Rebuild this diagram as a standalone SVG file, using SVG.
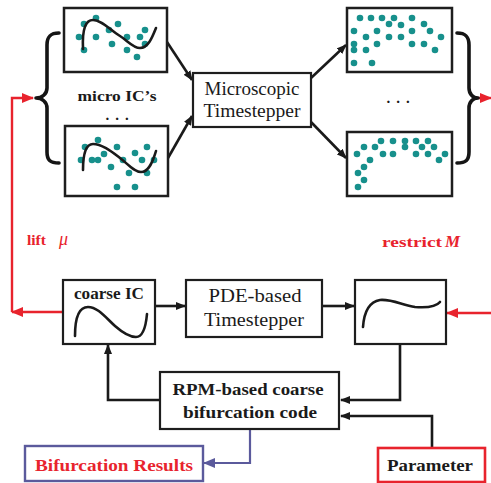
<svg xmlns="http://www.w3.org/2000/svg" width="491" height="483" viewBox="0 0 491 483">
<style>
.panel{fill:#fff;stroke:#1e1e1e;stroke-width:2.5}
.box{fill:#fff;stroke:#1e1e1e;stroke-width:2.2}
.d{fill:#17908c}
.curve{fill:none;stroke:#1a1a1a;stroke-width:2.6;stroke-linecap:round}
.brace{fill:none;stroke:#151515;stroke-width:3.6;stroke-linecap:round;stroke-linejoin:round}
.k{fill:none;stroke:#1a1a1a;stroke-width:2.6}
.r{fill:none;stroke:#e8232d;stroke-width:2.4}
.b{fill:none;stroke:#5b5a9c;stroke-width:2.2}
.t{font-family:"Liberation Serif",serif;fill:#1a1a1a}
.bold{font-weight:bold}
.red{fill:#e8232d}
.ell{letter-spacing:6px}
</style>
<defs>
<marker id="ak" markerWidth="10" markerHeight="8" refX="9" refY="4" orient="auto" markerUnits="userSpaceOnUse"><path d="M0,0 L10,4 L0,8 Z" fill="#1a1a1a"/></marker>
<marker id="ar" markerWidth="12" markerHeight="10" refX="11" refY="5" orient="auto" markerUnits="userSpaceOnUse"><path d="M0,0 L12,5 L0,10 Z" fill="#e8232d"/></marker>
<marker id="ab" markerWidth="12" markerHeight="10" refX="11" refY="5" orient="auto" markerUnits="userSpaceOnUse"><path d="M0,0 L12,5 L0,10 Z" fill="#5b5a9c"/></marker>
</defs>

<g id="connectors">
<line class="k" x1="167" y1="42" x2="192" y2="80" marker-end="url(#ak)"/>
<line class="k" x1="168" y1="158" x2="192" y2="116" marker-end="url(#ak)"/>
<line class="k" x1="311" y1="78" x2="346" y2="45" marker-end="url(#ak)"/>
<line class="k" x1="311" y1="122" x2="346" y2="158" marker-end="url(#ak)"/>
<line class="k" x1="155" y1="306" x2="185" y2="306" marker-end="url(#ak)"/>
<line class="k" x1="322" y1="306" x2="354" y2="306" marker-end="url(#ak)"/>
<polyline class="k" points="400,344 400,400 341,400" marker-end="url(#ak)"/>
<polyline class="k" points="432,448 432,416 341,416" marker-end="url(#ak)"/>
<polyline class="k" points="160,400 108,400 108,345" marker-end="url(#ak)"/>
<polyline class="b" points="250,429 250,463 204,463" marker-end="url(#ab)"/>
<polyline class="r" points="63,312 12,312" marker-end="url(#ar)"/>
<polyline class="r" points="12,312 12,98 33,98" marker-end="url(#ar)"/>
<line class="r" x1="477" y1="98" x2="491" y2="98" marker-end="url(#ar)"/>
<line class="r" x1="491" y1="313" x2="447" y2="313" marker-end="url(#ar)"/>
</g>

<g id="left-brace"><path class="brace" d="M59,33 C50,33 47,37 47,45 L47,88 C47,94 42,98 36,98 C42,98 47,102 47,108 L47,152 C47,160 50,163 59,163"/></g>
<g id="right-brace"><path class="brace" d="M457,33 C466,33 469,37 469,45 L469,88 C469,94 473,98 478,98 C473,98 469,102 469,108 L469,152 C469,160 466,163 457,163"/></g>

<g id="micro-ic-top">
<rect class="panel" x="64" y="8" width="103" height="64"/>
<g class="d"><circle cx="84" cy="24" r="3.3"/><circle cx="96" cy="18" r="3.3"/><circle cx="118" cy="24" r="3.3"/><circle cx="79" cy="37" r="3.3"/><circle cx="96" cy="37" r="3.3"/><circle cx="109" cy="30" r="3.3"/><circle cx="127" cy="37" r="3.3"/><circle cx="140" cy="37" r="3.3"/><circle cx="145" cy="30" r="3.3"/><circle cx="112" cy="44" r="3.3"/><circle cx="145" cy="44" r="3.3"/><circle cx="84" cy="50" r="3.3"/><circle cx="127" cy="50" r="3.3"/><circle cx="137" cy="57" r="3.3"/></g>
<path class="curve" d="M83,49 C82,28 86,20 93,20 C102,20 110,30 120,36 C128,41 133,48 140,48 C148,48 152,38 156,28"/>
</g>

<g id="micro-ic-label">
<text class="t bold" x="117" y="101" font-size="15.5" text-anchor="middle" textLength="79" lengthAdjust="spacingAndGlyphs">micro IC’s</text>
<text class="t bold ell" x="120" y="120" font-size="15" text-anchor="middle">...</text>
</g>

<g id="micro-ic-bottom">
<rect class="panel" x="65" y="126" width="103" height="70"/>
<g class="d"><circle cx="98" cy="140" r="3.3"/><circle cx="85" cy="147" r="3.3"/><circle cx="117" cy="147" r="3.3"/><circle cx="147" cy="147" r="3.3"/><circle cx="81" cy="160" r="3.3"/><circle cx="92" cy="160" r="3.3"/><circle cx="98" cy="160" r="3.3"/><circle cx="104" cy="154" r="3.3"/><circle cx="135" cy="153" r="3.3"/><circle cx="123" cy="160" r="3.3"/><circle cx="142" cy="160" r="3.3"/><circle cx="154" cy="160" r="3.3"/><circle cx="111" cy="167" r="3.3"/><circle cx="129" cy="173" r="3.3"/><circle cx="147" cy="173" r="3.3"/><circle cx="117" cy="187" r="3.3"/><circle cx="135" cy="187" r="3.3"/></g>
<path class="curve" d="M83,170 C83,152 86,144 93,144 C102,144 112,152 120,158 C128,164 134,172 141,172 C149,172 153,161 156,151"/>
</g>

<g id="microscopic-timestepper">
<rect class="box" x="193" y="73" width="118" height="54"/>
<text class="t" x="252" y="95" font-size="18" text-anchor="middle" textLength="95" lengthAdjust="spacingAndGlyphs">Microscopic</text>
<text class="t" x="252" y="117" font-size="18" text-anchor="middle" textLength="97" lengthAdjust="spacingAndGlyphs">Timestepper</text>
</g>

<g id="micro-out-top">
<rect class="panel" x="347" y="8" width="105" height="64"/>
<g class="d"><circle cx="360" cy="18" r="3.3"/><circle cx="371" cy="18" r="3.3"/><circle cx="382" cy="18" r="3.3"/><circle cx="394" cy="18" r="3.3"/><circle cx="412" cy="18" r="3.3"/><circle cx="389" cy="24" r="3.3"/><circle cx="401" cy="25" r="3.3"/><circle cx="424" cy="24" r="3.3"/><circle cx="354" cy="31" r="3.3"/><circle cx="377" cy="31" r="3.3"/><circle cx="412" cy="31" r="3.3"/><circle cx="430" cy="31" r="3.3"/><circle cx="366" cy="37" r="3.3"/><circle cx="389" cy="37" r="3.3"/><circle cx="401" cy="37" r="3.3"/><circle cx="441" cy="37" r="3.3"/><circle cx="354" cy="44" r="3.3"/><circle cx="377" cy="44" r="3.3"/><circle cx="412" cy="44" r="3.3"/><circle cx="424" cy="44" r="3.3"/><circle cx="354" cy="50" r="3.3"/><circle cx="366" cy="50" r="3.3"/><circle cx="435" cy="50" r="3.3"/><circle cx="354" cy="63" r="3.3"/><circle cx="372" cy="63" r="3.3"/></g>
</g>

<g id="micro-out-dots"><text class="t bold ell" x="401" y="103" font-size="15" text-anchor="middle">...</text></g>

<g id="micro-out-bottom">
<rect class="panel" x="347" y="132" width="105" height="64"/>
<g class="d"><circle cx="381" cy="141" r="3.3"/><circle cx="393" cy="141" r="3.3"/><circle cx="405" cy="141" r="3.3"/><circle cx="416" cy="141" r="3.3"/><circle cx="428" cy="141" r="3.3"/><circle cx="405" cy="147" r="3.3"/><circle cx="422" cy="147" r="3.3"/><circle cx="434" cy="147" r="3.3"/><circle cx="364" cy="147" r="3.3"/><circle cx="375" cy="147" r="3.3"/><circle cx="357" cy="154" r="3.3"/><circle cx="383" cy="154" r="3.3"/><circle cx="393" cy="154" r="3.3"/><circle cx="416" cy="154" r="3.3"/><circle cx="428" cy="154" r="3.3"/><circle cx="445" cy="154" r="3.3"/><circle cx="439" cy="160" r="3.3"/><circle cx="370" cy="160" r="3.3"/><circle cx="364" cy="167" r="3.3"/><circle cx="358" cy="173" r="3.3"/><circle cx="364" cy="180" r="3.3"/><circle cx="358" cy="187" r="3.3"/></g>
</g>

<g id="lift-label">
<text class="t bold red" x="27" y="245" font-size="15.5">lift</text>
<text class="t red" x="59" y="245" font-size="18" font-style="italic">μ</text>
</g>
<g id="restrict-label">
<text class="t bold red" x="382" y="247" font-size="15.5" textLength="60" lengthAdjust="spacingAndGlyphs">restrict</text>
<text class="t bold red" x="445" y="247" font-size="17" font-style="italic">M</text>
</g>

<g id="coarse-ic">
<rect class="box" x="63" y="280" width="92" height="64"/>
<text class="t bold" x="109" y="299" font-size="16" text-anchor="middle" textLength="70" lengthAdjust="spacingAndGlyphs">coarse IC</text>
<path class="curve" d="M75,336 C75,318 79,307 88,307 C98,307 106,318 115,326 C123,333 130,337 136,337 C143,337 146,325 147,314"/>
</g>

<g id="pde-timestepper">
<rect class="box" x="186" y="280" width="136" height="57"/>
<text class="t" x="255" y="302" font-size="18" text-anchor="middle" textLength="93" lengthAdjust="spacingAndGlyphs">PDE-based</text>
<text class="t" x="254" y="326" font-size="18" text-anchor="middle" textLength="100" lengthAdjust="spacingAndGlyphs">Timestepper</text>
</g>

<g id="coarse-out">
<rect class="box" x="355" y="280" width="91" height="64"/>
<path class="curve" d="M363,327 C364,313 368,302 380,300 C392,299 402,305 415,307 C428,308 436,307 440,302"/>
</g>

<g id="rpm-bifurcation">
<rect class="box" x="160" y="372" width="179" height="57"/>
<text class="t bold" x="248" y="395" font-size="16" text-anchor="middle" textLength="151" lengthAdjust="spacingAndGlyphs">RPM-based coarse</text>
<text class="t bold" x="250" y="418" font-size="16" text-anchor="middle" textLength="134" lengthAdjust="spacingAndGlyphs">bifurcation code</text>
</g>

<g id="bifurcation-results">
<rect x="25" y="446" width="178" height="35" fill="#fff" stroke="#5b5a9c" stroke-width="2.4"/>
<text class="t bold red" x="114" y="471" font-size="16" text-anchor="middle" textLength="158" lengthAdjust="spacingAndGlyphs">Bifurcation Results</text>
</g>

<g id="parameter">
<rect x="378" y="448" width="107" height="34" fill="#fff" stroke="#e8232d" stroke-width="2.6"/>
<text class="t bold" x="430" y="471" font-size="16" text-anchor="middle" textLength="86" lengthAdjust="spacingAndGlyphs">Parameter</text>
</g>
</svg>
